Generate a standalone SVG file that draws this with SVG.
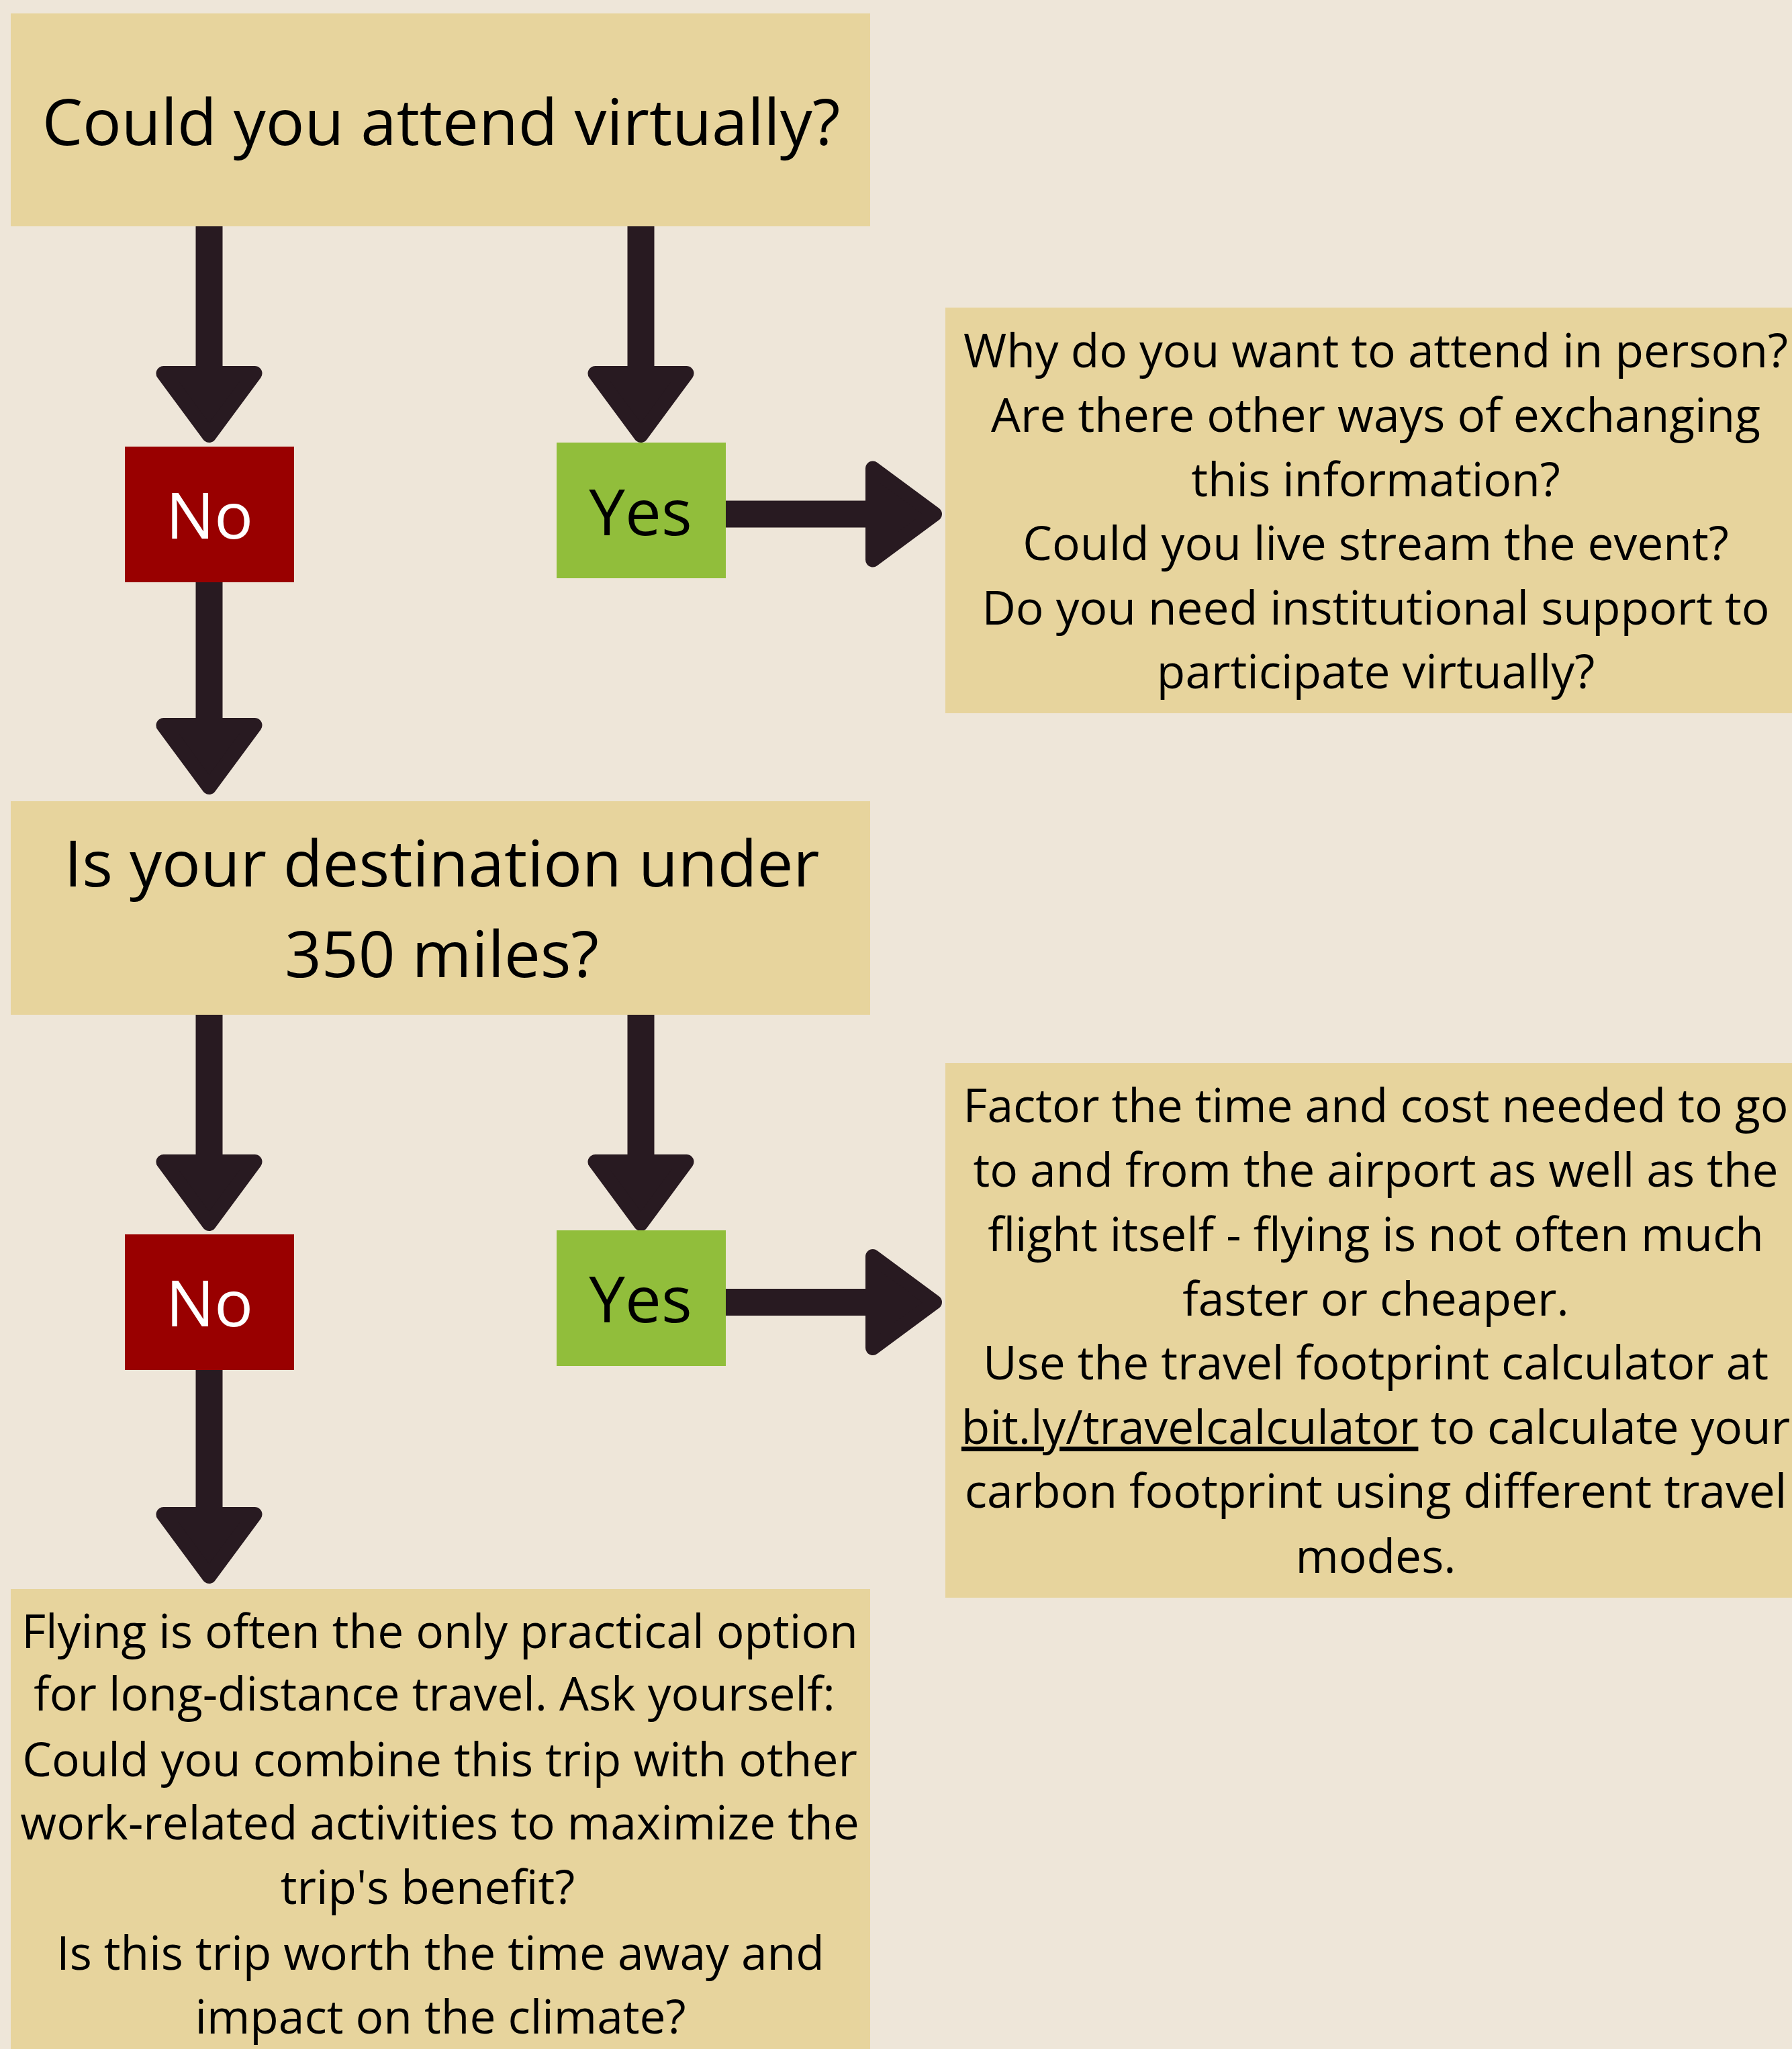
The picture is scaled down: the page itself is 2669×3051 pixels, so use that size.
<svg xmlns="http://www.w3.org/2000/svg" xmlns:xlink="http://www.w3.org/1999/xlink" width="2669" height="3051" viewBox="0 0 2669 3051">
<style>
.box{fill:#E7D49D}
.no{fill:#990000}
.yes{fill:#91BE3B}
.t{font-family:"Open Sans","Noto Sans","Liberation Sans",sans-serif;fill:#000;text-anchor:middle}
.big{font-size:96px}
.sm{font-size:69.5px}
.wt{fill:#fff}
.shaft{stroke:#281A21;stroke-width:40;fill:none}
.head{fill:#281A21;stroke:#281A21;stroke-width:22;stroke-linejoin:round}
</style>
<defs>
<path id="hd" class="head" d="M-68,-108 L68,-108 L0,-16 Z"/>
</defs>
<rect width="2669" height="3051" fill="#EEE6D9"/>
<g id="connectors">
<line class="shaft" x1="311.5" y1="337" x2="311.5" y2="560"/>
<use xlink:href="#hd" transform="translate(311.5,664)"/>
<line class="shaft" x1="954.5" y1="337" x2="954.5" y2="560"/>
<use xlink:href="#hd" transform="translate(954.5,664)"/>
<line class="shaft" x1="1081" y1="765.5" x2="1300" y2="765.5"/>
<use xlink:href="#hd" transform="translate(1408,765.5) rotate(-90)"/>
<line class="shaft" x1="311.5" y1="866" x2="311.5" y2="1080"/>
<use xlink:href="#hd" transform="translate(311.5,1188)"/>
<line class="shaft" x1="311.5" y1="1511" x2="311.5" y2="1730"/>
<use xlink:href="#hd" transform="translate(311.5,1838)"/>
<line class="shaft" x1="954.5" y1="1511" x2="954.5" y2="1730"/>
<use xlink:href="#hd" transform="translate(954.5,1838)"/>
<line class="shaft" x1="1081" y1="1939" x2="1300" y2="1939"/>
<use xlink:href="#hd" transform="translate(1408,1939) rotate(-90)"/>
<line class="shaft" x1="311.5" y1="2040" x2="311.5" y2="2255"/>
<use xlink:href="#hd" transform="translate(311.5,2363)"/>
</g>
<g id="q1">
<rect class="box" x="16" y="20" width="1280" height="317"/>
<text class="t big" x="657" y="216">Could you attend virtually?</text>
</g>
<g id="no1">
<rect class="no" x="186" y="665" width="252" height="202"/>
<text class="t big wt" x="312" y="802">No</text>
</g>
<g id="yes1">
<rect class="yes" x="829" y="659" width="252" height="202"/>
<text class="t big" x="954" y="797">Yes</text>
</g>
<g id="info1">
<rect class="box" x="1408" y="458" width="1261" height="604"/>
<text class="t sm" x="2049" y="547">Why do you want to attend in person?</text>
<text class="t sm" x="2049" y="643">Are there other ways of exchanging</text>
<text class="t sm" x="2049" y="739">this information?</text>
<text class="t sm" x="2049" y="834">Could you live stream the event?</text>
<text class="t sm" x="2049" y="930">Do you need institutional support to</text>
<text class="t sm" x="2049" y="1025">participate virtually?</text>
</g>
<g id="q2">
<rect class="box" x="16" y="1193" width="1280" height="318"/>
<text class="t big" x="658" y="1320">Is your destination under</text>
<text class="t big" x="658" y="1455">350 miles?</text>
</g>
<g id="no2">
<rect class="no" x="186" y="1838" width="252" height="202"/>
<text class="t big wt" x="312" y="1975">No</text>
</g>
<g id="yes2">
<rect class="yes" x="829" y="1832" width="252" height="202"/>
<text class="t big" x="954" y="1969">Yes</text>
</g>
<g id="info2">
<rect class="box" x="1408" y="1583" width="1261" height="796"/>
<text class="t sm" x="2049" y="1671">Factor the time and cost needed to go</text>
<text class="t sm" x="2049" y="1767">to and from the airport as well as the</text>
<text class="t sm" x="2049" y="1863">flight itself - flying is not often much</text>
<text class="t sm" x="2049" y="1959">faster or cheaper.</text>
<text class="t sm" x="2049" y="2054">Use the travel footprint calculator at</text>
<text class="t sm" x="2049" y="2150"><tspan text-decoration="underline">bit.ly/travelcalculator</tspan> to calculate your</text>
<text class="t sm" x="2049" y="2245">carbon footprint using different travel</text>
<text class="t sm" x="2049" y="2342">modes.</text>
</g>
<g id="info3">
<rect class="box" x="16" y="2366" width="1280" height="685"/>
<text class="t sm" x="655" y="2454">Flying is often the only practical option</text>
<text class="t sm" x="647" y="2547">for long-distance travel. Ask yourself:</text>
<text class="t sm" x="655" y="2645">Could you combine this trip with other</text>
<text class="t sm" x="655" y="2739">work-related activities to maximize the</text>
<text class="t sm" x="637" y="2835">trip's benefit?</text>
<text class="t sm" x="656" y="2933">Is this trip worth the time away and</text>
<text class="t sm" x="656" y="3028">impact on the climate?</text>
</g>
</svg>
